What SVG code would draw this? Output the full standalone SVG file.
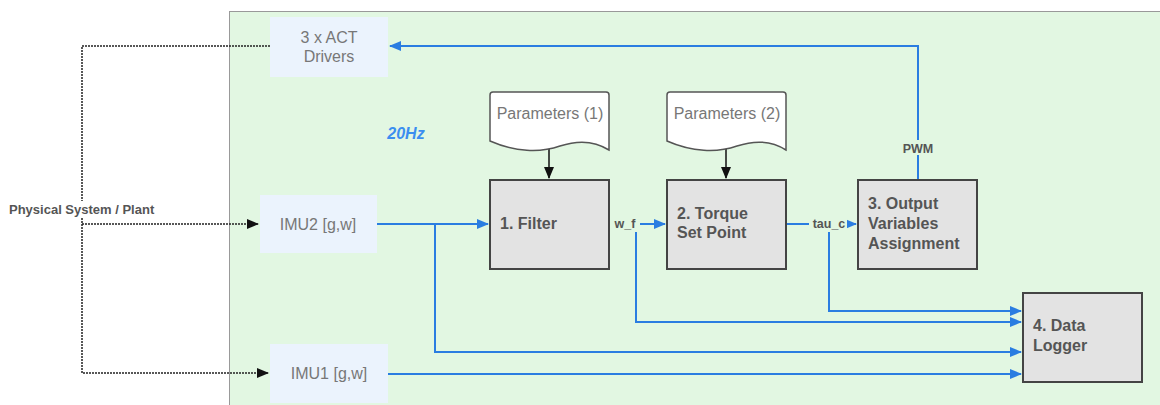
<svg xmlns="http://www.w3.org/2000/svg" width="1160" height="405" viewBox="0 0 1160 405">
  <defs>
    <marker id="ab" markerWidth="12" markerHeight="10" refX="11" refY="5" orient="auto" markerUnits="userSpaceOnUse">
      <path d="M0,0 L12,5 L0,10 Z" fill="#2a7de1"/>
    </marker>
    <marker id="ak" markerWidth="12" markerHeight="10" refX="11" refY="5" orient="auto" markerUnits="userSpaceOnUse">
      <path d="M0,0 L12,5 L0,10 Z" fill="#111"/>
    </marker>
    <style>
      .io { fill: #ebf3fd; }
      .iot { font-family: "Liberation Sans", Arial, sans-serif; font-size: 16px; fill: #777; text-anchor: middle; }
      .blk { fill: #e3e3e3; stroke: #444; stroke-width: 2; }
      .blkt { font-family: "Liberation Sans", Arial, sans-serif; font-size: 16px; font-weight: bold; fill: #555; }
      .doc { fill: #fff; stroke: #555; stroke-width: 1.5; }
      .blue { fill: none; stroke: #2a7de1; stroke-width: 2; }
      .dash { fill: none; stroke: #222; stroke-width: 1.5; stroke-dasharray: 2 1; }
      .lbl { font-family: "Liberation Sans", Arial, sans-serif; font-size: 12.5px; font-weight: bold; fill: #555; text-anchor: middle; }
    </style>
  </defs>

  <rect width="1160" height="405" fill="#fff"/>
  <!-- 20Hz task frame -->
  <rect x="229.5" y="11.5" width="940" height="410" fill="#e2f7e2" stroke="#999" stroke-width="1"/>
  <text x="406" y="139" font-family="Liberation Sans, Arial, sans-serif" font-size="16" font-weight="bold" font-style="italic" fill="#3b8ef0" text-anchor="middle">20Hz</text>

  <g id="connectors">
    <!-- plant links -->
    <path class="dash" d="M270,46 H82 V373 H268" marker-end="url(#ak)"/>
    <path class="dash" d="M82,224 H258" marker-end="url(#ak)"/>
    <!-- parameter feeds -->
    <path d="M549,146 V178" stroke="#111" stroke-width="1.5" fill="none" marker-end="url(#ak)"/>
    <path d="M726,146 V178" stroke="#111" stroke-width="1.5" fill="none" marker-end="url(#ak)"/>
    <!-- data flow -->
    <path class="blue" d="M377,224 H488" marker-end="url(#ab)"/>
    <path class="blue" d="M435,224 V352 H1021" marker-end="url(#ab)"/>
    <path class="blue" d="M609,224 H665" marker-end="url(#ab)"/>
    <path class="blue" d="M636,232 V322 H1021" marker-end="url(#ab)"/>
    <path class="blue" d="M786,224 H856" marker-end="url(#ab)"/>
    <path class="blue" d="M829,232 V311 H1021" marker-end="url(#ab)"/>
    <path class="blue" d="M918,180 V46 H390" marker-end="url(#ab)"/>
    <path class="blue" d="M388,374 H1021" marker-end="url(#ab)"/>
    <!-- connector labels -->
    <rect x="610" y="216" width="30" height="14" fill="#e2f7e2"/>
    <text class="lbl" x="625" y="228">w_f</text>
    <rect x="809" y="216" width="38" height="14" fill="#e2f7e2"/>
    <text class="lbl" x="829" y="228">tau_c</text>
    <rect x="899" y="140" width="38" height="15" fill="#e2f7e2"/>
    <text class="lbl" x="918" y="153">PWM</text>
  </g>

  <g id="plant">
    <rect x="7" y="201" width="151" height="17" fill="#fff"/>
    <text x="9" y="214" font-family="Liberation Sans, Arial, sans-serif" font-size="13" font-weight="bold" fill="#555">Physical System / Plant</text>
  </g>

  <g id="act-drivers">
    <rect class="io" x="270" y="17" width="118" height="60"/>
    <text class="iot" x="329" y="43">3 x ACT</text>
    <text class="iot" x="329" y="62">Drivers</text>
  </g>

  <g id="imu2">
    <rect class="io" x="260" y="195" width="117" height="58"/>
    <text class="iot" x="318" y="230">IMU2 [g,w]</text>
  </g>

  <g id="imu1">
    <rect class="io" x="270" y="344" width="118" height="59"/>
    <text class="iot" x="329" y="379">IMU1 [g,w]</text>
  </g>

  <g id="params1">
    <path class="doc" d="M493,92 H606 Q609,92 609,95 V150 C595,141 578,140 560,146 C540,153 515,152 490,141 V95 Q490,92 493,92 Z"/>
    <text class="iot" x="550" y="119">Parameters (1)</text>
  </g>

  <g id="params2">
    <path class="doc" d="M670,92 H783 Q786,92 786,95 V150 C772,141 755,140 737,146 C717,153 692,152 667,141 V95 Q667,92 670,92 Z"/>
    <text class="iot" x="727" y="119">Parameters (2)</text>
  </g>

  <g id="filter">
    <rect class="blk" x="490" y="180" width="119" height="89"/>
    <text class="blkt" x="500" y="229">1. Filter</text>
  </g>

  <g id="torque-setpoint">
    <rect class="blk" x="667" y="180" width="119" height="89"/>
    <text class="blkt" x="677" y="219">2. Torque</text>
    <text class="blkt" x="677" y="238">Set Point</text>
  </g>

  <g id="output-assignment">
    <rect class="blk" x="858" y="180" width="119" height="89"/>
    <text class="blkt" x="868" y="209">3. Output</text>
    <text class="blkt" x="868" y="229">Variables</text>
    <text class="blkt" x="868" y="249">Assignment</text>
  </g>

  <g id="data-logger">
    <rect class="blk" x="1023" y="293" width="119" height="89"/>
    <text class="blkt" x="1033" y="331">4. Data</text>
    <text class="blkt" x="1033" y="351">Logger</text>
  </g>
</svg>
